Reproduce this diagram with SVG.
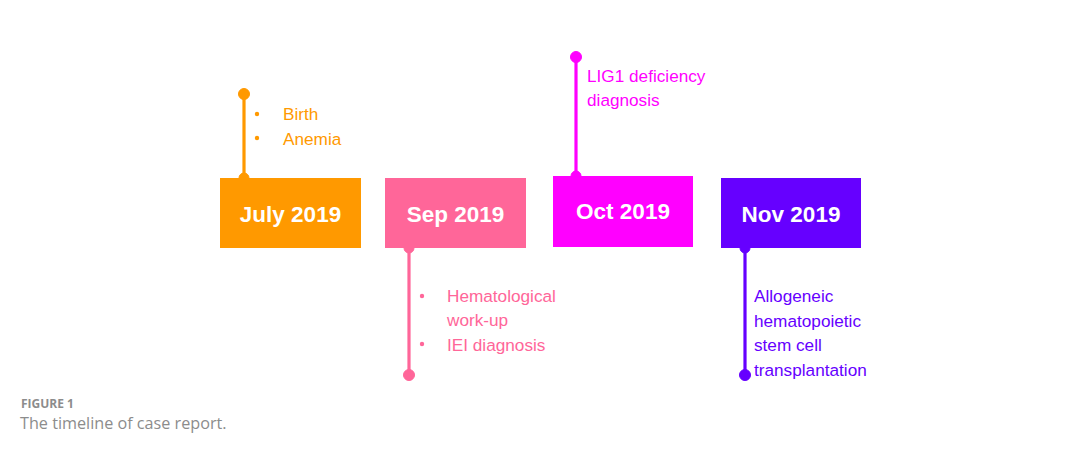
<svg xmlns="http://www.w3.org/2000/svg" width="1080" height="451" viewBox="0 0 1080 451">
<style>
.box-label{font-family:"Liberation Sans",Arial,sans-serif;font-weight:bold;font-size:22.5px;fill:#fff;text-anchor:middle}
.note{font-family:"Liberation Sans",Arial,sans-serif;font-size:17.2px}
.cap1{font-family:"Open Sans",sans-serif;font-weight:bold;font-size:12px;fill:#8c8c8c}
.cap2{font-family:"Open Sans",sans-serif;font-size:16.2px;fill:#8c8c8c}
.stem{stroke-width:3.2;fill:none}
</style>
<rect width="1080" height="451" fill="#fff"/>
<g id="connectors">
  <g stroke="#FF9900" fill="#FF9900"><line class="stem" x1="244" y1="94" x2="244" y2="178"/><circle cx="244" cy="94" r="5.5"/><circle cx="244" cy="178" r="5"/></g>
  <g stroke="#FF6699" fill="#FF6699"><line class="stem" x1="409" y1="248" x2="409" y2="375"/><circle cx="409" cy="375" r="5.5"/><circle cx="409" cy="248" r="5"/></g>
  <g stroke="#FF00FF" fill="#FF00FF"><line class="stem" x1="576" y1="57" x2="576" y2="176"/><circle cx="576" cy="57" r="5.5"/><circle cx="576" cy="176" r="5"/></g>
  <g stroke="#6600FF" fill="#6600FF"><line class="stem" x1="745" y1="248" x2="745" y2="375"/><circle cx="745" cy="375" r="5.5"/><circle cx="745" cy="248" r="5"/></g>
</g>
<g id="node-july">
  <rect x="220" y="178" width="141" height="70" fill="#FF9900"/>
  <text class="box-label" x="290.5" y="222">July 2019</text>
  <g fill="#FF9900"><circle cx="257" cy="114" r="2.2"/><circle cx="257" cy="138" r="2.2"/>
  <text class="note" x="283" y="120">Birth</text>
  <text class="note" x="283" y="145">Anemia</text></g>
</g>
<g id="node-sep">
  <rect x="385" y="178" width="141" height="70" fill="#FF6699"/>
  <text class="box-label" x="455.5" y="222">Sep 2019</text>
  <g fill="#FF6699"><circle cx="422" cy="296" r="2.2"/><circle cx="422" cy="344" r="2.2"/>
  <text class="note" x="447" y="302">Hematological</text>
  <text class="note" x="447" y="326">work-up</text>
  <text class="note" x="447" y="351">IEI diagnosis</text></g>
</g>
<g id="node-oct">
  <rect x="553" y="176" width="140" height="71" fill="#FF00FF"/>
  <text class="box-label" x="623" y="219">Oct 2019</text>
  <g fill="#FF00FF">
  <text class="note" x="587" y="82">LIG1 deficiency</text>
  <text class="note" x="587" y="106">diagnosis</text></g>
</g>
<g id="node-nov">
  <rect x="721" y="178" width="140" height="70" fill="#6600FF"/>
  <text class="box-label" x="791" y="222">Nov 2019</text>
  <g fill="#6600FF">
  <text class="note" x="754" y="302">Allogeneic</text>
  <text class="note" x="754" y="327">hematopoietic</text>
  <text class="note" x="754" y="351">stem cell</text>
  <text class="note" x="754" y="376">transplantation</text></g>
</g>
<g id="caption">
  <text class="cap1" x="21" y="408">FIGURE 1</text>
  <text class="cap2" x="20" y="429">The timeline of case report.</text>
</g>
</svg>
